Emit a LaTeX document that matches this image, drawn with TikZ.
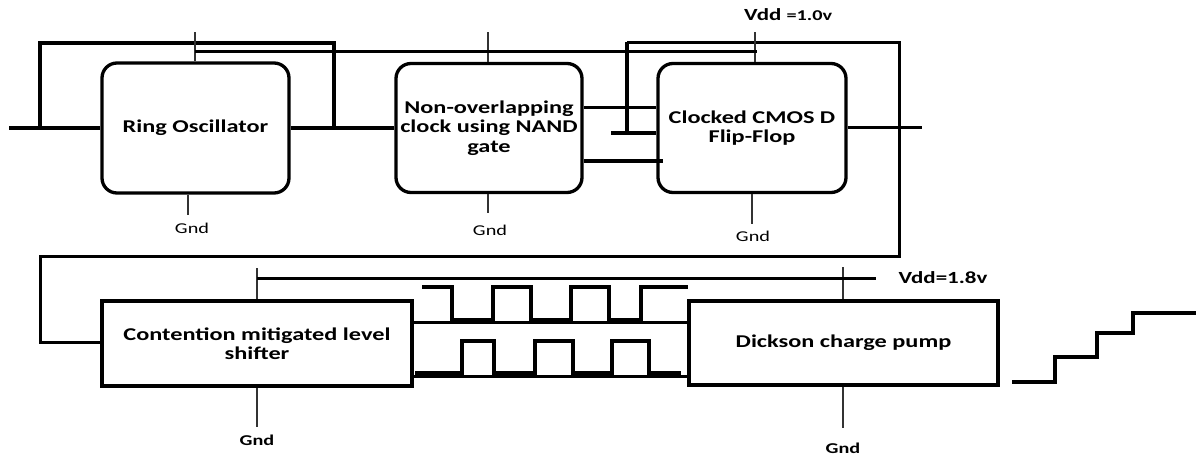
\documentclass[tikz,border=0pt]{standalone}
\usepackage{fontspec}
\setmainfont[FakeStretch=1.35]{Carlito}
\begin{document}
\begin{tikzpicture}[x=1pt,y=-1pt,
  blk/.style={draw, line width=3.3pt, align=center, inner sep=0pt,
    font=\fontsize{18}{19.5}\selectfont\bfseries},
  rblk/.style={blk, rounded corners=15pt},
  thk/.style={line width=3.4pt},
  med/.style={line width=3.0pt},
  tick/.style={line width=1.2pt, black!80},
  wave/.style={line width=3.2pt, line join=miter},
  gnd/.style={font=\fontsize{15}{17}\selectfont, inner sep=0pt},
  gndb/.style={font=\fontsize{15}{17}\selectfont\bfseries, inner sep=0pt},
  vdd/.style={font=\fontsize{17}{19}\selectfont\bfseries, inner sep=0pt}]
\useasboundingbox (0,0) rectangle (1196,455);

% blocks
\node[rblk, minimum width=187pt, minimum height=130pt] (ring) at (195.5,128) {Ring Oscillator};
\node[rblk, minimum width=186pt, minimum height=129pt] (nand) at (489,128) {Non-overlapping\\clock using NAND\\gate};
\node[rblk, minimum width=188pt, minimum height=129pt] (ff) at (752,128) {Clocked CMOS D\\Flip-Flop};
\node[blk, minimum width=310pt, minimum height=85pt] (ls) at (257,343.5) {Contention mitigated level\\shifter};
\node[blk, minimum width=309pt, minimum height=84pt] (dk) at (843.5,343) {Dickson charge pump};

% coordinates
\coordinate (in) at (9,128);
\coordinate (j1) at (40,128);
\coordinate (j2) at (334,128);
\coordinate (ffout) at (922,127);
\coordinate (vr) at (195,32);
\coordinate (vn) at (488,32);
\coordinate (vf) at (755,32);
\coordinate (vl) at (257,268);
\coordinate (vd) at (843,267);
\coordinate (vend) at (876,278);

% top row wiring
\draw[thk] (in) -- (ring.west);
\draw[thk] (j1) -- ++(0,-85) -| (j2);
\draw[thk] (ring.east) -- (nand.west);
\draw[med] (nand.east |- 0,107) -- (ff.west |- 0,107);
\draw[thk] (611,133) -- (ff.west |- 0,133);
\draw[thk] (nand.east |- 0,161) -- (663,161);
\draw[thk] (627,133) -- (627,42);
\draw[med] (627,42) -| (899,256) -| (40,342) -- (ls.west |- 0,342);
\draw[med] (ff.east |- ffout) -- (ffout);

% Vdd 1.0
\draw[tick] (vr) -- (ring.north -| vr);
\draw[tick] (vn) -- (nand.north -| vn);
\draw[tick] (vf) -- (ff.north -| vf);
\draw[med] (195,51) -- (757,51);
\node[vdd, anchor=west] (vdd1) at (744,15) {Vdd {\fontsize{15}{17}\selectfont =1.0v}};

% Gnd top row
\draw[tick] (ring.south -| 188,0) -- (188,215);
\node[gnd] (g1) at (192,228) {Gnd};
\draw[tick] (nand.south -| 488,0) -- (488,213);
\node[gnd] (g2) at (490,230) {Gnd};
\draw[tick] (ff.south) -- (752,224);
\node[gnd] (g3) at (753,236) {Gnd};

% Vdd 1.8
\draw[tick] (vl) -- (ls.north);
\draw[tick] (vd) -- (dk.north -| vd);
\draw[med] (257,278) -- (vend);
\node[vdd] (vdd2) at (943,278) {Vdd=1.8v};

% level shifter to charge pump
\draw[med] (ls.east |- 0,322) -- (dk.west |- 0,322);
\draw[med] (ls.east |- 0,376) -- (dk.west |- 0,376);

% waveforms
\draw[wave] (422,287) -- (452,287) -- (452,320) -- (493,320) -- (493,287) -- (531,287)
  -- (531,320) -- (571,320) -- (571,287) -- (609,287) -- (609,320) -- (641,320)
  -- (641,287) -- (688,287);
\draw[wave] (415,373) -- (462,373) -- (462,341) -- (494,341) -- (494,373) -- (535,373)
  -- (535,341) -- (573,341) -- (573,373) -- (612,373) -- (612,341) -- (649,341)
  -- (649,373) -- (681,373);

% Gnd bottom row
\draw[tick] (ls.south) -- (257,427);
\node[gndb] (g4) at (257,440) {Gnd};
\draw[tick] (dk.south -| 843,0) -- (843,428);
\node[gndb] (g5) at (843,448) {Gnd};

% staircase output
\draw[wave] (1012,382) -- (1055,382) -- (1055,357) -- (1097,357) -- (1097,333)
  -- (1133,333) -- (1133,313) -- (1196,313);
\end{tikzpicture}
\end{document}
